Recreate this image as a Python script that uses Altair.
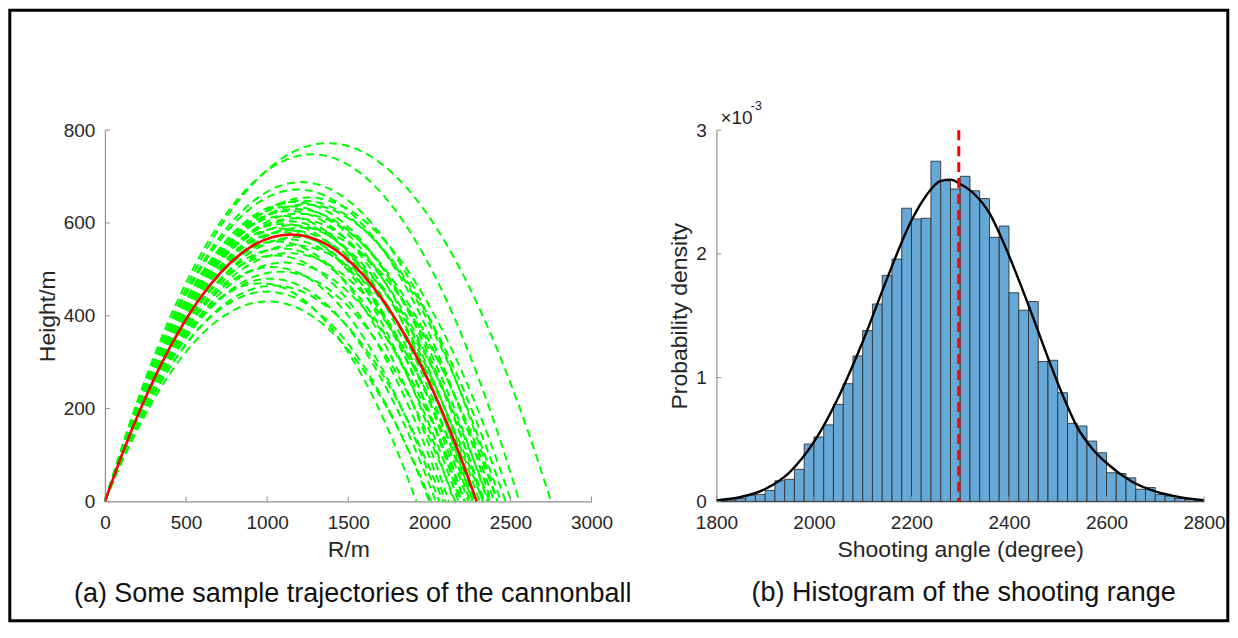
import altair as alt
import pandas as pd

# ---------------- data ----------------
# (a) sample trajectories: range (m) and apex height (m) of each green dashed curve
traj_range = [2750, 2555, 2420, 2380, 2505, 2440, 2330, 2470, 2290, 2360,
              2265, 2400, 2215, 2340, 2250, 2190, 2310, 2420, 2150, 2280,
              2200, 2370, 2240, 2120, 2330, 2180, 2270, 2100, 2220, 2060,
              2160, 2040, 2085, 2000, 1920, 2010]
traj_height = [772, 748, 688, 672, 655, 648, 645, 640, 636, 630,
               626, 620, 615, 610, 604, 598, 595, 590, 588, 584,
               580, 570, 565, 560, 552, 545, 535, 530, 515, 505,
               495, 480, 465, 452, 470, 431]
# red (nominal) trajectory
red_range = 2292
red_height = 575
shape_u = [0, 0.05, 0.1, 0.25, 0.4, 0.5, 0.6, 0.75, 0.9, 0.95, 1.0]
shape_v = [0, 0.19, 0.36, 0.75, 0.96, 1.0, 0.96, 0.75, 0.36, 0.19, 0]

# (b) histogram: bin edges (width 20) and densities (x 1e-3)
bin_start = list(range(1800, 2800, 20))
hist_density = [0.006, 0.011, 0.022, 0.05, 0.056, 0.089, 0.166, 0.178, 0.259, 0.463,
                0.52, 0.618, 0.784, 0.951, 1.175, 1.38, 1.595, 1.826, 1.958, 2.369,
                2.282, 2.288, 2.749, 2.59, 2.525, 2.627, 2.51, 2.447, 2.134, 2.225,
                1.686, 1.545, 1.615, 1.13, 1.14, 0.878, 0.63, 0.609, 0.487, 0.393,
                0.231, 0.225, 0.19, 0.098, 0.112, 0.055, 0.042, 0.023, 0.015, 0.007]
# fitted density curve (x 1e-3)
curve_x = [1800, 1850, 1900, 1950, 2000, 2050, 2100, 2150, 2200, 2230, 2260, 2280,
           2300, 2330, 2360, 2390, 2420, 2450, 2480, 2510, 2540, 2570, 2600, 2650,
           2700, 2750, 2800]
curve_y = [0.008, 0.035, 0.1, 0.235, 0.48, 0.84, 1.29, 1.80, 2.27, 2.47, 2.59, 2.60,
           2.565, 2.48, 2.33, 2.08, 1.79, 1.48, 1.16, 0.86, 0.6, 0.43, 0.31, 0.165,
           0.08, 0.034, 0.01]
mean_range = 2297

left_xticks = [0, 500, 1000, 1500, 2000, 2500, 3000]
left_yticks = [0, 200, 400, 600, 800]
right_xticks = [1800, 2000, 2200, 2400, 2600, 2800]
right_yticks = [0, 1, 2, 3]

# ---------------- tables ----------------
rows = []
for i, (R, Hh) in enumerate(zip(traj_range, traj_height)):
    for k, (u, v) in enumerate(zip(shape_u, shape_v)):
        rows.append({"id": i, "k": k, "x": u * R, "y": v * Hh})
green_df = pd.DataFrame(rows)
red_df = pd.DataFrame({"k": list(range(len(shape_u))),
                       "x": [u * red_range for u in shape_u],
                       "y": [v * red_height for v in shape_v]})
hist_df = pd.DataFrame({"x": bin_start, "x2": [b + 20 for b in bin_start], "y": hist_density})
curve_df = pd.DataFrame({"x": curve_x, "y": curve_y})
mean_df = pd.DataFrame({"x": [mean_range]})
one = pd.DataFrame({"a": [0]})

W1, W2, H = 487, 488, 371.5
FONT = "Liberation Sans"
AX = "#8f8f8f"
TXT = "#262626"


def lx(**kw):
    return alt.X("x:Q", scale=alt.Scale(domain=[0, 3000], nice=False),
                 axis=alt.Axis(values=left_xticks, format="d", title="R/m"), **kw)


def ly(**kw):
    return alt.Y("y:Q", scale=alt.Scale(domain=[0, 800], nice=False),
                 axis=alt.Axis(values=left_yticks, format="d", title="Height/m"), **kw)


def rx(**kw):
    return alt.X("x:Q", scale=alt.Scale(domain=[1800, 2800], nice=False),
                 axis=alt.Axis(values=right_xticks, format="d", title="Shooting angle (degree)"), **kw)


def ry(**kw):
    return alt.Y("y:Q", scale=alt.Scale(domain=[0, 3], nice=False),
                 axis=alt.Axis(values=right_yticks, format="d", title="Probability density"), **kw)


# ---------------- left panel ----------------
frame = alt.Chart(one).mark_rect(fill="white", fillOpacity=0, stroke="black", strokeWidth=3).encode(
    x=alt.value(-95.2), x2=alt.value(1123.8), y=alt.value(-120), y2=alt.value(491))

green = alt.Chart(green_df).mark_line(color="#00ff00", strokeWidth=2, strokeDash=[8, 5],
                                      interpolate="monotone").encode(
    x=lx(), y=ly(), detail="id:N", order="k:Q")
red = alt.Chart(red_df).mark_line(color="#ff0000", strokeWidth=2.6, interpolate="monotone").encode(
    x=lx(), y=ly(), order="k:Q")
l_xt = alt.Chart(pd.DataFrame({"x": left_xticks})).mark_rule(color=AX, strokeWidth=1).encode(
    x=lx(), y=alt.value(H), y2=alt.value(H - 5))
l_yt = alt.Chart(pd.DataFrame({"y": left_yticks})).mark_rule(color=AX, strokeWidth=1).encode(
    y=ly(), x=alt.value(0), x2=alt.value(5))
cap_a = alt.Chart(one).mark_text(text="(a) Some sample trajectories of the cannonball", font=FONT,
                                 fontSize=27, color="#111111", align="center", baseline="alphabetic").encode(
    x=alt.value(248), y=alt.value(472))

left = alt.layer(frame, green, red, l_xt, l_yt, cap_a).properties(width=W1, height=H)

# ---------------- right panel ----------------
bars = alt.Chart(hist_df).mark_rect(color="#66a9d8", stroke="#333333", strokeWidth=0.9, opacity=1).encode(
    x=rx(), x2="x2:Q", y=ry(), y2=alt.datum(0))
curve = alt.Chart(curve_df).mark_line(color="black", strokeWidth=2.4, interpolate="monotone").encode(
    x=rx(), y=ry())
mean_line = alt.Chart(mean_df).mark_rule(color="#ff0000", strokeWidth=3, strokeDash=[10, 6]).encode(
    x=rx(), y=alt.value(0), y2=alt.value(H))
r_xt = alt.Chart(pd.DataFrame({"x": right_xticks})).mark_rule(color=AX, strokeWidth=1).encode(
    x=rx(), y=alt.value(H), y2=alt.value(H - 5))
r_yt = alt.Chart(pd.DataFrame({"y": right_yticks})).mark_rule(color=AX, strokeWidth=1).encode(
    y=ry(), x=alt.value(0), x2=alt.value(5))
exp_base = alt.Chart(one).mark_text(text="×10", font=FONT, fontSize=19, color=TXT,
                                    align="left", baseline="alphabetic").encode(
    x=alt.value(4), y=alt.value(-6.5))
exp_pow = alt.Chart(one).mark_text(text="-3", font=FONT, fontSize=13, color=TXT,
                                   align="left", baseline="alphabetic").encode(
    x=alt.value(34), y=alt.value(-20))
cap_b = alt.Chart(one).mark_text(text="(b) Histogram of the shooting range", font=FONT,
                                 fontSize=27, color="#111111", align="center", baseline="alphabetic").encode(
    x=alt.value(247.5), y=alt.value(471))

right = alt.layer(bars, curve, mean_line, r_xt, r_yt, exp_base, exp_pow, cap_b).properties(width=W2, height=H)

chart = alt.hconcat(left, right, spacing=125, bounds="flush").properties(
    padding=0, background="white"
).configure_view(stroke=None).configure_axis(
    grid=False, ticks=False, tickSize=0, domainColor=AX, domainWidth=1.2,
    labelFont=FONT, labelFontSize=19, labelColor=TXT, labelPadding=12,
    labelFlush=False, labelOverlap=False, labelBound=False,
    titleFont=FONT, titleFontSize=23, titleFontWeight="normal", titleColor=TXT,
).configure_axisX(titlePadding=6).configure_axisY(titlePadding=4, labelPadding=10)

chart.save("out.html", embed_options={"renderer": "svg", "actions": False})
